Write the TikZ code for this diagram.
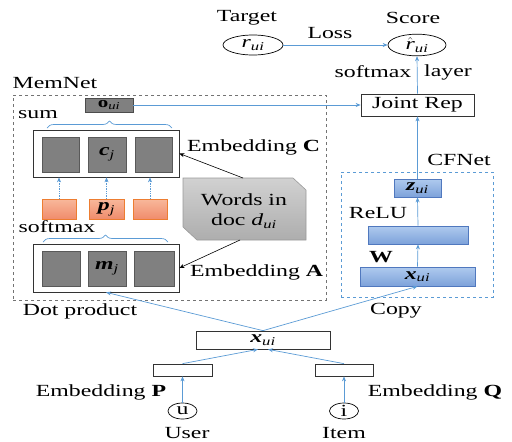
\documentclass[tikz,border=0pt]{standalone}
\usepackage{fontspec}
\setmainfont{Liberation Serif}[FakeStretch=1.4]
\usetikzlibrary{arrows.meta,decorations.pathreplacing,shapes.geometric}
\definecolor{cfblue}{RGB}{91,155,213}
\definecolor{bxblue}{RGB}{80,120,190}
\definecolor{orbord}{RGB}{237,125,49}
\definecolor{ortop}{RGB}{248,184,155}
\definecolor{orbot}{RGB}{240,140,108}
\newcommand\ui{\textsubscript{\textit{ui}}}
\newcommand\bi[1]{\textbf{\textit{#1}}}
\begin{document}
\begin{tikzpicture}[x=1pt,y=-1pt,
  lbl/.style={font=\fontsize{17}{19}\selectfont, inner sep=0},
  barrow/.style={draw=cfblue, line width=0.7pt, -{Stealth[length=5pt,width=4pt]}},
  karrow/.style={draw=black, line width=0.6pt, -{Stealth[length=5pt,width=4pt]}},
  wbox/.style={draw=black!80, line width=0.7pt, fill=white, inner sep=0, font=\fontsize{17}{19}\selectfont},
  gsq/.style={draw=black!65, fill=black!50, line width=0.6pt, inner sep=0, minimum height=35pt, font=\fontsize{17}{19}\selectfont},
  obox/.style={draw=orbord, line width=0.7pt, top color=ortop, bottom color=orbot, inner sep=0, minimum height=20pt, font=\fontsize{17}{19}\selectfont},
  bbox/.style={draw=bxblue, line width=0.7pt, top color={rgb,255:red,175;green,202;blue,238}, bottom color={rgb,255:red,125;green,162;blue,218}, inner sep=0, font=\fontsize{17}{19}\selectfont},
  ell/.style={draw=black, line width=0.7pt, ellipse, inner sep=0, font=\fontsize{17}{19}\selectfont},
  dbrace/.style={draw=cfblue, line width=0.7pt, decorate, decoration={brace, amplitude=7pt}}
]
\useasboundingbox (0,0) rectangle (512,442);

% top
\node[lbl] (tgtl) at (247,18) {Target};
\node[ell, minimum width=60pt, minimum height=20pt] (tgt) at (253,45) {\textit{r}\ui};
\node[lbl] (scl) at (413,18) {Score};
\node[ell, minimum width=58pt, minimum height=20pt] (sc) at (417,45) {$\hat{\mbox{\textit{r}}}$\ui};
\node[lbl] (loss) at (330,33) {Loss};
\draw[barrow] (tgt.east) -- (sc.west);
\node[wbox, minimum width=113pt, minimum height=22pt] (joint) at (417.5,105) {Joint Rep};
\draw[barrow] (joint.north) -- (sc.south);
\node[lbl] (smx) at (373,72) {softmax};
\node[lbl] (lay) at (448,72) {layer};

% MemNet
\node[lbl] (meml) at (55,83) {MemNet};
\node[draw=black!55, dashed, line width=0.6pt, minimum width=313pt, minimum height=205pt, inner sep=0] (mem) at (169.5,197.5) {};
\node[draw=black!70, fill=black!50, line width=0.6pt, inner sep=0, minimum width=48pt, minimum height=14pt, font=\fontsize{15}{17}\selectfont] (ou) at (109,105) {\textbf{o}\ui};
\draw[barrow] (ou.east) -- (joint.west);
\node[lbl] (sum) at (38,115) {sum};
\draw[dbrace] (47,128) -- (172,128);

\node[wbox, minimum width=146pt, minimum height=47pt] (embC) at (106,153.5) {};
\node[gsq, minimum width=37pt] (c1) at (61,154.5) {};
\node[gsq, minimum width=38pt] (c2) at (107,154.5) {\bi{c}\textsubscript{\textit{j}}};
\node[gsq, minimum width=37pt] (c3) at (153.5,154.5) {};
\node[lbl, anchor=base west] (embCl) at (187,151) {Embedding \textbf{C}};

\node[obox, minimum width=34pt] (p1) at (59,209) {};
\node[obox, minimum width=35pt] (p2) at (106.5,209) {\bi{p}\textsubscript{\textit{j}}};
\node[obox, minimum width=34pt] (p3) at (150,209) {};
\foreach \p in {p1,p2,p3}
  \draw[draw=cfblue, line width=0.7pt, densely dotted, -{Stealth[length=5pt,width=4pt]}] (\p.north) -- (\p.north |- embC.south);
\node[lbl] (smx2) at (57,227) {softmax};
\draw[dbrace] (43,242) -- (168,242);

\node[wbox, minimum width=146pt, minimum height=48pt] (embA) at (106,268) {};
\node[gsq, minimum width=38pt] (m1) at (61,268.5) {};
\node[gsq, minimum width=38pt] (m2) at (107,268.5) {\bi{m}\textsubscript{\textit{j}}};
\node[gsq, minimum width=40pt] (m3) at (154,268.5) {};
\node[lbl, anchor=base west] (embAl) at (190,276) {Embedding \textbf{A}};

% words shape
\shade[top color=black!18, bottom color=black!32, draw=black!40, line width=0.6pt]
  (183,178) -- (293,178) -- (306,190) -- (306,240) -- (197,240) -- (183,227) -- cycle;
\node[lbl, align=center, font=\fontsize{17}{20}\selectfont] (words) at (244,211) {Words in\\doc \textit{d}\ui};
\coordinate (wtop) at (243,178);
\coordinate (wbot) at (240,240);
\draw[karrow] (wtop) -- (embC.east);
\draw[karrow] (wbot) -- (embA.east);

% CFNet
\node[lbl] (cfl) at (459,160) {CFNet};
\node[draw=cfblue, dashed, line width=0.7pt, minimum width=152pt, minimum height=125pt, inner sep=0] (cf) at (417,234.5) {};
\node[bbox, minimum width=47pt, minimum height=18pt] (z) at (417.5,188) {\bi{z}\ui};
\node[lbl] (relu) at (378,213) {ReLU};
\node[bbox, minimum width=100pt, minimum height=18pt] (mid) at (418,235) {};
\node[lbl] (W) at (381,257) {\textbf{W}};
\node[bbox, minimum width=115pt, minimum height=19pt] (xc) at (417.5,276.5) {\bi{x}\ui};
\draw[barrow] (xc.north) -- (mid.south);
\draw[barrow] (mid.north) -- (z.south);
\draw[barrow] (z.north) -- (joint.south);

% bottom
\node[lbl] (dot) at (80,311) {Dot product};
\node[lbl] (copy) at (396,311) {Copy};
\node[wbox, minimum width=134pt, minimum height=18pt] (xb) at (263,340) {\bi{x}\ui};
\draw[barrow] (xb.north) -- (embA.south);
\draw[barrow] (xb.north) -- (xc.south);
\node[wbox, minimum width=59pt, minimum height=12pt] (P) at (182.5,370) {};
\node[wbox, minimum width=58pt, minimum height=12pt] (Q) at (344,370) {};
\draw[barrow] (P.north) -- ([xshift=-5pt]xb.south);
\draw[barrow] (Q.north) -- ([xshift=5pt]xb.south);
\node[lbl] (Pl) at (101,392) {Embedding \textbf{P}};
\node[lbl] (Ql) at (435,392) {Embedding \textbf{Q}};
\node[ell, minimum width=29pt, minimum height=16pt] (u) at (182.5,411) {u};
\node[ell, minimum width=29pt, minimum height=16pt] (i) at (344,411) {i};
\draw[barrow] (u.north) -- (P.south);
\draw[barrow] (i.north) -- (Q.south);
\node[lbl] (user) at (187,433) {User};
\node[lbl] (item) at (344,433) {Item};
\end{tikzpicture}
\end{document}
